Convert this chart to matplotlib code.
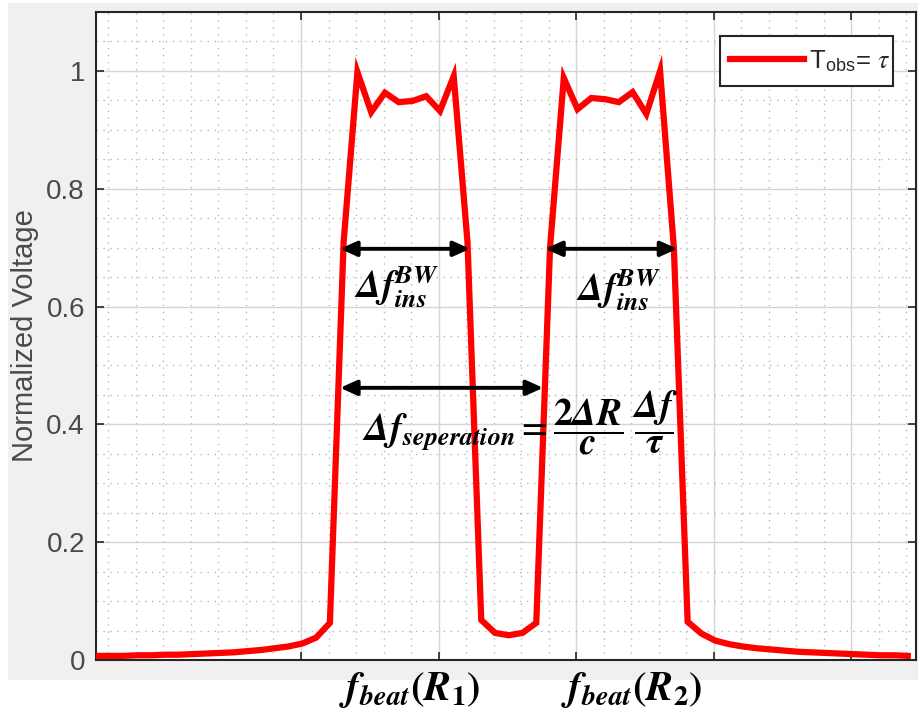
import matplotlib
matplotlib.use('Agg')
import matplotlib.pyplot as plt
from matplotlib.patches import Rectangle
from matplotlib.ticker import MultipleLocator, AutoMinorLocator

# Dati (frequenza in unità arbitrarie, tensione normalizzata)
freq = [-0.49, -0.39, -0.29, -0.19, -0.09, 0.01, 0.11, 0.21, 0.31, 0.41,
        0.51, 0.61, 0.71, 0.81, 0.91, 1.01, 1.11,
        1.21, 1.31, 1.41, 1.51, 1.61, 1.71, 1.81, 1.91, 2.01, 2.11, 2.21,
        2.31, 2.41, 2.51, 2.61, 2.71,
        2.81, 2.91, 3.01, 3.11, 3.21, 3.31, 3.41, 3.51, 3.61, 3.71, 3.81,
        3.91, 4.01, 4.11, 4.21, 4.31, 4.41, 4.51, 4.61, 4.71, 4.81,
        4.91, 5.01, 5.11, 5.21, 5.31, 5.41]
voltage = [0.007, 0.007, 0.007, 0.008, 0.008, 0.009, 0.009, 0.010, 0.011, 0.012,
           0.013, 0.015, 0.017, 0.020, 0.023, 0.028, 0.038,
           0.063, 0.71, 0.998, 0.930, 0.963, 0.947, 0.949, 0.957, 0.932, 0.991, 0.71,
           0.068, 0.046, 0.042, 0.046, 0.063,
           0.70, 0.988, 0.935, 0.954, 0.952, 0.947, 0.964, 0.927, 1.0, 0.70, 0.065,
           0.045, 0.033, 0.027, 0.023, 0.020, 0.018, 0.016, 0.014, 0.013, 0.012,
           0.011, 0.010, 0.009, 0.008, 0.008, 0.007]

yticks = [0, 0.2, 0.4, 0.6, 0.8, 1]
ytick_labels = ['0', '0.2', '0.4', '0.6', '0.8', '1']
xticks = [1, 2, 3, 4, 5]

# Frecce: (x inizio, x fine, y)
arrow_bw1 = (1.284, 2.229, 0.698)
arrow_bw2 = (2.775, 3.735, 0.698)
arrow_sep = (1.284, 2.76, 0.462)

plt.rcParams.update({
    "font.family": ["Liberation Sans", "DejaVu Sans"],
    "mathtext.fontset": "stix",
})

gray_txt = '#4a4a4a'
red = '#ff0000'

fig = plt.figure(figsize=(9.18, 7.11), dpi=100, facecolor='white')
bg = Rectangle((8 / 918, 31 / 711), 1 - 8 / 918, 677 / 711,
               transform=fig.transFigure, facecolor='#f0f0f0',
               edgecolor='none', zorder=-10)
fig.add_artist(bg)

ax = fig.add_axes([96 / 918, 51 / 711, 820 / 918, 648 / 711])
ax.set_facecolor('white')

ax.plot(freq, voltage, color=red, lw=4.5, label=r'T$_{\mathregular{obs}}$= $\tau$',
        solid_joinstyle='miter', zorder=3)

ax.set_xlim(-0.49, 5.47)
ax.set_ylim(0, 1.1)
ax.set_xticks(xticks)
ax.set_xticklabels([])
ax.set_yticks(yticks)
ax.set_yticklabels(ytick_labels)
ax.xaxis.set_minor_locator(AutoMinorLocator(5))
ax.yaxis.set_minor_locator(MultipleLocator(0.05))

ax.grid(True, which='major', color='#d5d5d5', lw=1.0)
ax.grid(True, which='minor', color='#b8b8b8', lw=1.0, linestyle=(0, (1, 4)))
ax.set_axisbelow(True)

ax.tick_params(which='both', direction='in', top=True, right=True,
               colors='#262626', labelcolor=gray_txt, labelsize=20, pad=8)
ax.tick_params(which='major', length=6, width=1.2)
ax.tick_params(which='minor', length=0)
for s in ax.spines.values():
    s.set_color('#262626')
    s.set_linewidth(1.5)

ax.set_ylabel('Normalized Voltage', fontsize=21, color=gray_txt)
ax.yaxis.set_label_coords(-0.069, 0.5)

# Legenda: cornice disegnata a parte per controllarne la larghezza
frame = Rectangle((0.761, 0.886), 0.211, 0.077, transform=ax.transAxes,
                  facecolor='white', edgecolor='#262626', lw=1.5, zorder=4.5)
ax.add_patch(frame)
leg = ax.legend(loc='center left', fontsize=18.5, frameon=False,
                handlelength=2.85, borderpad=0.4, handletextpad=0.2,
                borderaxespad=0, bbox_to_anchor=(0.761, 0.9245))
for t in leg.get_texts():
    t.set_color('#262626')

# Frecce a doppia punta
for x0, x1, y in (arrow_bw1, arrow_bw2, arrow_sep):
    ax.annotate('', xy=(x1, y), xytext=(x0, y),
                arrowprops=dict(arrowstyle='<|-|>,head_length=1.0,head_width=0.45',
                                color='black', lw=2.8, shrinkA=0, shrinkB=0),
                zorder=5)

bw = r'$\mathbfit{\Delta f}_{\mathbfit{ins}}^{\mathbfit{BW}}$'
ax.text(1.69, 0.635, bw, fontsize=27, ha='center', va='center', zorder=6)
ax.text(3.31, 0.63, bw, fontsize=27, ha='center', va='center', zorder=6)

sep = (r'$\mathbfit{\Delta f}_{\mathbfit{seperation}} = '
       r'\dfrac{\mathbf{2}\mathbfit{\Delta R}}{\mathbfit{c}}\;'
       r'\dfrac{\mathbfit{\Delta f}}{\mathbfit{\tau}}$')
ax.text(2.59, 0.403, sep, fontsize=27, ha='center', va='center', zorder=6)

fig.text(410 / 918, 1 - 690 / 711,
         r'$\mathbfit{f}_{\mathbfit{beat}}\mathbf{(}\mathbfit{R}_{\mathbf{1}}\mathbf{)}$',
         fontsize=29, ha='center', va='center')
fig.text(632 / 918, 1 - 690 / 711,
         r'$\mathbfit{f}_{\mathbfit{beat}}\mathbf{(}\mathbfit{R}_{\mathbf{2}}\mathbf{)}$',
         fontsize=29, ha='center', va='center')

fig.savefig('out.png', dpi=100, facecolor=fig.get_facecolor())
